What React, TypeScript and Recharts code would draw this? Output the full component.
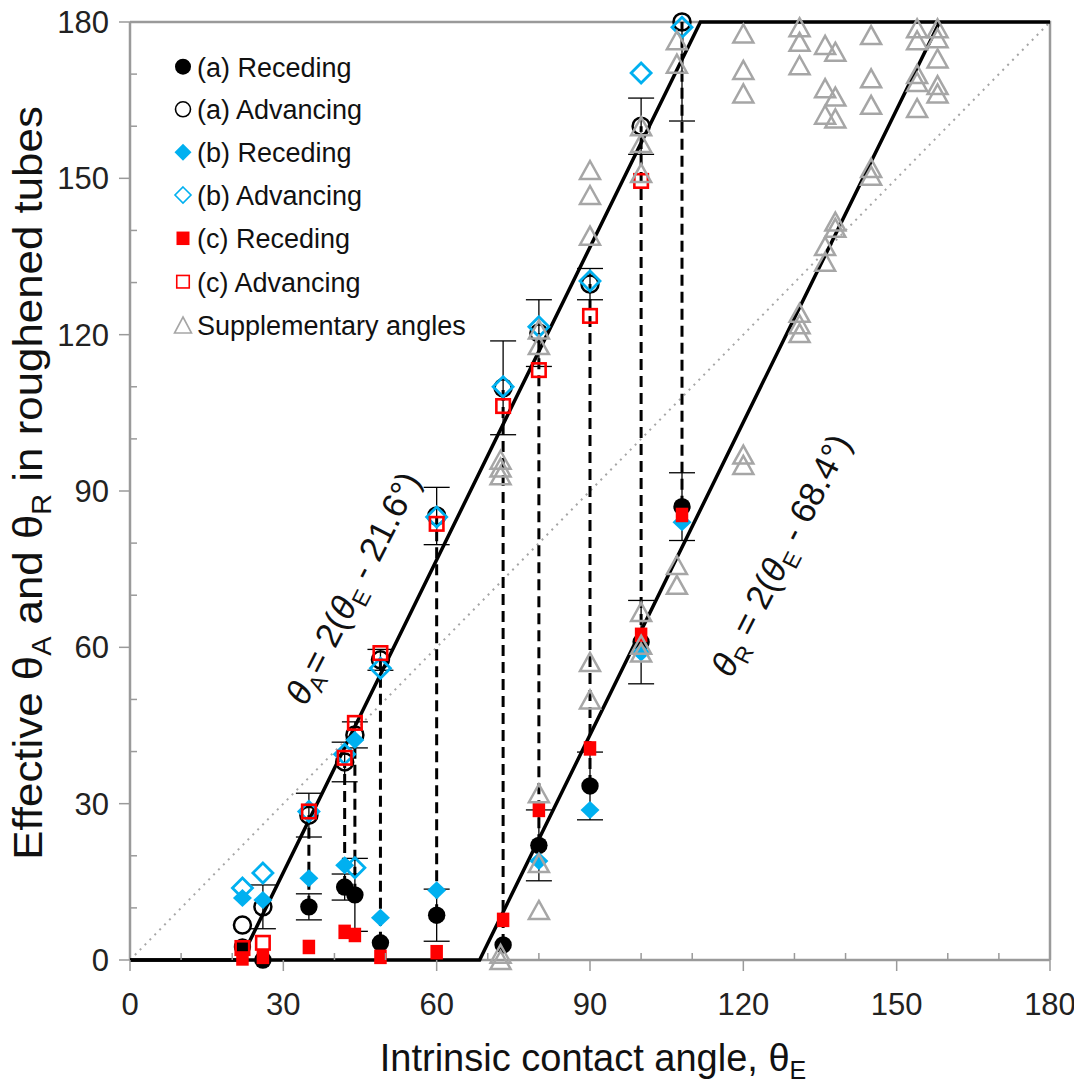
import React from "react";
import { ScatterChart, Scatter, XAxis, YAxis, ErrorBar } from "recharts";

// intrinsic contact angles tested (deg)
const thetaE = [22, 26, 35, 42, 44, 49, 60, 73, 80, 90, 100, 108];

// effective angles in roughened tubes
const aReceding = [2.5, 0, 10.2, 14, 12.5, 3.3, 8.6, 2.9, 22, 33.4, 61, 87];
const aRecedingErr = [null, null, 2.5, 2.5, 7, null, 5, null, 6.8, 6.5, 8, 6.5];
const aAdvancing = [6.7, 10.2, 27.8, 38, 43.2, 57.6, 85.2, 109.8, 120.3, 129.7, 160, 180];
const aAdvancingErr = [null, 4.2, 4.2, 3.8, 2.5, 2, 5.5, 9, 6.4, 3, 5.4, [19, 0]];
const bReceding = [11.9, 11.5, 15.7, 18.2, 42.2, 8.1, 13.4, null, 19, 28.8, 59, 84];
const bAdvancing = [13.8, 16.7, 28.5, 39.5, 17.7, 56, 85, 110, 121.5, 130.3, 170.2, 179];
const cReceding = [0.3, 0.6, 2.5, 5.4, 4.8, 0.6, 1.5, 7.7, 28.8, 40.6, 62.4, 85.4];
const cAdvancing = [2.3, 3.3, 28.5, 38.8, 45.5, 58.9, 83.7, 106.3, 113.2, 123.6, 149.5, null];

// supplementary angles (grey triangles)
const suppX = [
  72.5, 72.5, 72.5, 72.5, 72.5,
  80, 80, 80, 80, 80,
  90, 90, 90, 90, 90,
  100, 100, 100, 100, 100, 100,
  107, 107, 107, 107,
  120, 120, 120, 120, 120,
  131, 131, 131, 131, 131, 131,
  136, 136, 136, 136, 136,
  138, 138, 138, 138, 138,
  145, 145, 145, 145, 145,
  154, 154, 154, 154, 154,
  158, 158, 158, 158, 158,
];
const suppY = [
  96, 94.5, 93, 1.2, 0,
  121, 118, 32, 18.6, 9.6,
  151.6, 146.8, 139, 57.2, 50,
  160, 156.8, 151, 66.8, 60.5, 59,
  176.5, 172, 75.8, 72,
  177.8, 170.8, 166.3, 97, 95,
  179, 176.2, 171.7, 124.2, 122, 120.3,
  175.6, 167.3, 162.2, 137, 134,
  174.3, 165.7, 161.5, 141.7, 140.5,
  177.5, 169.2, 164.1, 152, 150.5,
  178.8, 176.5, 170, 168.5, 163.5,
  178.8, 176.9, 173, 167.9, 166.3,
];

// model lines: thetaA = 2(thetaE - 21.6), thetaR = 2(thetaE - 68.4), bounded 0..180
const modelAX = [0, 21.6, 111.6, 180];
const modelAY = [0, 0, 180, 180];
const modelRX = [0, 68.4, 158.4];
const modelRY = [0, 0, 180];
const diagX = [0, 180];
const diagY = [0, 180];

const connectorAngles = [35, 42, 44, 49, 60, 73, 80, 90, 100, 108];
const axisTicks = [0, 10, 20, 30, 40, 50, 60, 70, 80, 90, 100, 110, 120, 130, 140, 150, 160, 170, 180];

const FONT = "'Liberation Sans', Arial, Helvetica, sans-serif";
const AXIS = "#9a9a9a";
const BLUE = "#00B0F0";
const RED = "#FF0000";
const GREY = "#A6A6A6";

const toPoints = (ys: (number | null)[], errs?: any[]) =>
  thetaE.flatMap((x, i) =>
    ys[i] == null ? [] : [{ x, y: ys[i] as number, err: errs && errs[i] != null ? errs[i] : undefined }]
  );

const zipXY = (xs: number[], ys: number[]) => xs.map((x, i) => ({ x, y: ys[i] }));

const connectorData = (x: number) => {
  const i = thetaE.indexOf(x);
  return [
    { x, y: aReceding[i] },
    { x, y: aAdvancing[i] },
  ];
};

// marker shapes
const NoDot = () => <g />;
const FilledCircle = (r: number) => (p: any) => <circle cx={p.cx} cy={p.cy} r={r} fill="#000" />;
const HollowCircle = (r: number, w: number) => (p: any) => (
  <circle cx={p.cx} cy={p.cy} r={r} fill="none" stroke="#000" strokeWidth={w} />
);
const diamondPath = (cx: number, cy: number, hw: number, hh: number) =>
  `M${cx},${cy - hh}L${cx + hw},${cy}L${cx},${cy + hh}L${cx - hw},${cy}Z`;
const FilledDiamond = (hw: number, hh: number) => (p: any) => (
  <path d={diamondPath(p.cx, p.cy, hw, hh)} fill={BLUE} />
);
const HollowDiamond = (hw: number, hh: number, w: number) => (p: any) => (
  <path d={diamondPath(p.cx, p.cy, hw, hh)} fill="none" stroke={BLUE} strokeWidth={w} />
);
const FilledSquare = (s: number, h: number) => (p: any) => (
  <rect x={p.cx - s / 2} y={p.cy - h / 2} width={s} height={h} fill={RED} />
);
const HollowSquare = (s: number, w: number) => (p: any) => (
  <rect x={p.cx - s / 2} y={p.cy - s / 2} width={s} height={s} fill="none" stroke={RED} strokeWidth={w} />
);
const Triangle = (hw: number, h: number, w: number) => (p: any) => (
  <path
    d={`M${p.cx},${p.cy - h / 2}L${p.cx + hw},${p.cy + h / 2}L${p.cx - hw},${p.cy + h / 2}Z`}
    fill="none"
    stroke={GREY}
    strokeWidth={w}
    strokeLinejoin="miter"
  />
);

const XTick = (props: any) => {
  const { x, y, payload } = props;
  const major = payload.value % 30 === 0;
  return (
    <g>
      <line x1={x} x2={x} y1={y} y2={major ? y + 11 : y - 7} stroke={AXIS} strokeWidth={1.5} />
      {major && (
        <text x={x} y={y + 55} textAnchor="middle" fontSize={31} fill="#222" fontFamily={FONT}>
          {payload.value}
        </text>
      )}
    </g>
  );
};

const YTick = (props: any) => {
  const { x, y, payload } = props;
  const major = payload.value % 30 === 0;
  return (
    <g>
      <line x1={x} x2={major ? x - 11 : x + 7} y1={y} y2={y} stroke={AXIS} strokeWidth={1.5} />
      {major && (
        <text x={x - 21} y={y + 11} textAnchor="end" fontSize={31} fill="#222" fontFamily={FONT}>
          {payload.value}
        </text>
      )}
    </g>
  );
};

const legendRows = [
  { label: "(a) Receding", shape: FilledCircle(8) },
  { label: "(a) Advancing", shape: HollowCircle(7.5, 1.6) },
  { label: "(b) Receding", shape: FilledDiamond(8.5, 8.5) },
  { label: "(b) Advancing", shape: HollowDiamond(8, 8, 1.6) },
  { label: "(c) Receding", shape: FilledSquare(13, 13.5) },
  { label: "(c) Advancing", shape: HollowSquare(12.5, 1.6) },
  { label: "Supplementary angles", shape: Triangle(8.5, 16, 1.6) },
];
const legendY = [66.7, 109.3, 152.3, 195, 238.3, 281.7, 325];

export default function App() {
  return (
    <div style={{ position: "relative", width: 1082, height: 1087, margin: "-8px 0 0 -8px" }}>
      <ScatterChart width={1082} height={1087} margin={{ top: 22, right: 32, bottom: 67, left: 70 }}>
        <XAxis
          type="number"
          dataKey="x"
          domain={[0, 180]}
          ticks={axisTicks}
          interval={0}
          tick={XTick}
          tickLine={false}
          tickSize={0}
          tickMargin={0}
          axisLine={{ stroke: AXIS, strokeWidth: 2.5 }}
          height={60}
        />
        <YAxis
          type="number"
          dataKey="y"
          domain={[0, 180]}
          ticks={axisTicks}
          interval={0}
          tick={YTick}
          tickLine={false}
          tickSize={0}
          tickMargin={0}
          axisLine={{ stroke: AXIS, strokeWidth: 2.5 }}
          width={60}
        />

        {/* plot frame, top and right */}
        <Scatter
          data={[{ x: 0, y: 180 }, { x: 180, y: 180 }, { x: 180, y: 0 }]}
          line={{ stroke: AXIS, strokeWidth: 2.5 }}
          shape={NoDot}
          isAnimationActive={false}
        />
        <Scatter
          data={zipXY(diagX, diagY)}
          line={{ stroke: GREY, strokeWidth: 2, strokeDasharray: "2 5" }}
          shape={NoDot}
          isAnimationActive={false}
        />
        {connectorAngles.map((a) => (
          <Scatter
            key={a}
            data={connectorData(a)}
            line={{ stroke: "#000", strokeWidth: 3, strokeDasharray: "11 6" }}
            shape={NoDot}
            isAnimationActive={false}
          />
        ))}
        <Scatter
          data={zipXY(modelAX, modelAY)}
          line={{ stroke: "#000", strokeWidth: 3.5 }}
          shape={NoDot}
          isAnimationActive={false}
        />
        <Scatter
          data={zipXY(modelRX, modelRY)}
          line={{ stroke: "#000", strokeWidth: 3.5 }}
          shape={NoDot}
          isAnimationActive={false}
        />

        <Scatter data={toPoints(aReceding, aRecedingErr)} shape={FilledCircle(8.7)} isAnimationActive={false}>
          <ErrorBar dataKey="err" direction="y" width={13} stroke="#000" strokeWidth={1.3} />
        </Scatter>
        <Scatter data={toPoints(aAdvancing, aAdvancingErr)} shape={HollowCircle(8.5, 2.5)} isAnimationActive={false}>
          <ErrorBar dataKey="err" direction="y" width={13} stroke="#000" strokeWidth={1.3} />
        </Scatter>
        <Scatter data={toPoints(bReceding)} shape={FilledDiamond(9.5, 9)} isAnimationActive={false} />
        <Scatter data={toPoints(bAdvancing)} shape={HollowDiamond(10, 10, 2.8)} isAnimationActive={false} />
        <Scatter data={toPoints(cReceding)} shape={FilledSquare(12.5, 14.5)} isAnimationActive={false} />
        <Scatter data={toPoints(cAdvancing)} shape={HollowSquare(13.5, 2.6)} isAnimationActive={false} />
        <Scatter data={zipXY(suppX, suppY)} shape={Triangle(10, 18, 2.5)} isAnimationActive={false} />
      </ScatterChart>

      <svg
        width={1082}
        height={1087}
        style={{ position: "absolute", left: 0, top: 0, pointerEvents: "none" }}
      >
        <g fontFamily={FONT} fill="#111">
          {legendRows.map((r, i) => (
            <g key={r.label}>
              {r.shape({ cx: 183, cy: legendY[i] })}
              <text x={197} y={legendY[i] + 10} fontSize={27}>
                {r.label}
              </text>
            </g>
          ))}

          <text transform="translate(42,483) rotate(-90) scale(1.07,1)" textAnchor="middle" fontSize={41}>
            Effective θ
            <tspan dy={9} fontSize={27}>A</tspan>
            <tspan dy={-9}> and θ</tspan>
            <tspan dy={9} fontSize={27}>R</tspan>
            <tspan dy={-9}> in roughened tubes</tspan>
          </text>

          <text x={593} y={1071} textAnchor="middle" fontSize={38}>
            Intrinsic contact angle, θ
            <tspan dy={8} fontSize={25}>E</tspan>
          </text>

          <text transform="translate(353,588) rotate(-63)" textAnchor="middle" dy={12} fontSize={35}>
            <tspan fontStyle="italic">θ</tspan>
            <tspan dy={8} fontSize={23}>A</tspan>
            <tspan dy={-8}>= 2(</tspan>
            <tspan fontStyle="italic">θ</tspan>
            <tspan dy={8} fontSize={23}>E</tspan>
            <tspan dy={-8}> - 21.6°)</tspan>
          </text>

          <text transform="translate(781,555) rotate(-63)" textAnchor="middle" dy={12} fontSize={35}>
            <tspan fontStyle="italic">θ</tspan>
            <tspan dy={8} fontSize={23}>R</tspan>
            <tspan dy={-8}> = 2(</tspan>
            <tspan fontStyle="italic">θ</tspan>
            <tspan dy={8} fontSize={23}>E</tspan>
            <tspan dy={-8}> - 68.4°)</tspan>
          </text>
        </g>
      </svg>
    </div>
  );
}
